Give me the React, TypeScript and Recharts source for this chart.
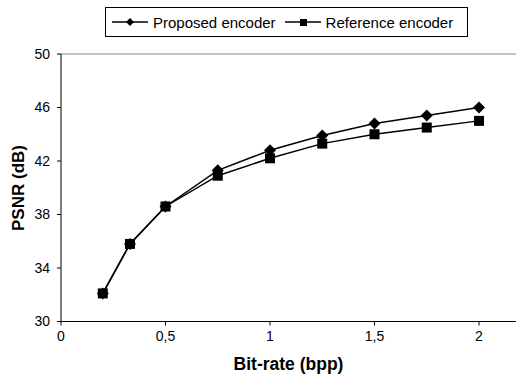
import { LineChart, Line, XAxis, YAxis, ReferenceLine } from "recharts"

const bitRates = [0.2, 0.33, 0.5, 0.75, 1, 1.25, 1.5, 1.75, 2]
const proposedPsnr = [32.1, 35.8, 38.6, 41.3, 42.8, 43.9, 44.8, 45.4, 46.0]
const referencePsnr = [32.1, 35.8, 38.6, 40.9, 42.2, 43.3, 44.0, 44.5, 45.0]
const xTicks = [0, 0.5, 1, 1.5, 2]
const yTicks = [30, 34, 38, 42, 46, 50]
const seriesNames = ["Proposed encoder", "Reference encoder"]

const data = bitRates.map((x, i) => ({ x, proposed: proposedPsnr[i], reference: referencePsnr[i] }))

const font = "'Liberation Sans', Arial, sans-serif"

function Diamond(props: any) {
  const { cx, cy } = props
  if (cx == null || cy == null) return null
  return <polygon points={`${cx},${cy - 6} ${cx + 6},${cy} ${cx},${cy + 6} ${cx - 6},${cy}`} fill="#000" />
}

function Square(props: any) {
  const { cx, cy } = props
  if (cx == null || cy == null) return null
  return <rect x={cx - 5} y={cy - 5} width={10} height={10} fill="#000" />
}

// y label sits at the middle of the plot, left of the tick labels
function YLabel() {
  return (
    <text x={24} y={188} transform="rotate(-90 24 188)" textAnchor="middle" fontFamily={font} fontWeight="bold" fontSize={17} fill="#000">
      PSNR (dB)
    </text>
  )
}

function LegendIcon({ kind }: { kind: "diamond" | "square" }) {
  return (
    <svg width={36} height={12} style={{ display: "block" }}>
      <line x1={0} y1={6} x2={36} y2={6} stroke="#000" strokeWidth={1.5} />
      {kind === "diamond" ? <polygon points="18,2 22,6 18,10 14,6" fill="#000" /> : <rect x={15} y={3} width={7} height={7} fill="#000" />}
    </svg>
  )
}

export default function App() {
  return (
    <div style={{ position: "fixed", left: 0, top: 0, width: 518, height: 374, background: "#fff" }}>
      <LineChart width={518} height={374} data={data} margin={{ top: 54, right: 2, bottom: 0, left: 0 }}>
        <ReferenceLine y={50} stroke="#888" strokeWidth={1} />
        <XAxis
          dataKey="x"
          type="number"
          domain={[0, 2.177]}
          ticks={xTicks}
          height={52.5}
          stroke="#000"
          tickSize={4}
          tickMargin={6}
          tick={{ fill: "#000", fontSize: 14, fontFamily: font }}
          tickFormatter={(v) => String(v).replace(".", ",")}
          label={{ value: "Bit-rate (bpp)", position: "insideBottom", offset: 4, fill: "#000", fontSize: 17.5, fontWeight: "bold", fontFamily: font }}
        />
        <YAxis
          type="number"
          domain={[30, 50]}
          ticks={yTicks}
          width={61}
          stroke="#000"
          tickSize={4}
          tickMargin={7}
          tick={{ fill: "#000", fontSize: 14, fontFamily: font }}
          label={<YLabel />}
        />
        <Line dataKey="proposed" name={seriesNames[0]} stroke="#000" strokeWidth={1.5} dot={<Diamond />} isAnimationActive={false} />
        <Line dataKey="reference" name={seriesNames[1]} stroke="#000" strokeWidth={1.5} dot={<Square />} isAnimationActive={false} />
      </LineChart>
      <div
        style={{
          position: "absolute",
          left: 105,
          top: 7,
          width: 363,
          height: 30,
          boxSizing: "border-box",
          border: "1px solid #000",
          display: "flex",
          alignItems: "center",
          fontFamily: font,
          fontSize: 15,
          paddingLeft: 6,
        }}
      >
        <LegendIcon kind="diamond" />
        <span style={{ marginLeft: 5, marginRight: 9 }}>{seriesNames[0]}</span>
        <LegendIcon kind="square" />
        <span style={{ marginLeft: 5 }}>{seriesNames[1]}</span>
      </div>
    </div>
  )
}
